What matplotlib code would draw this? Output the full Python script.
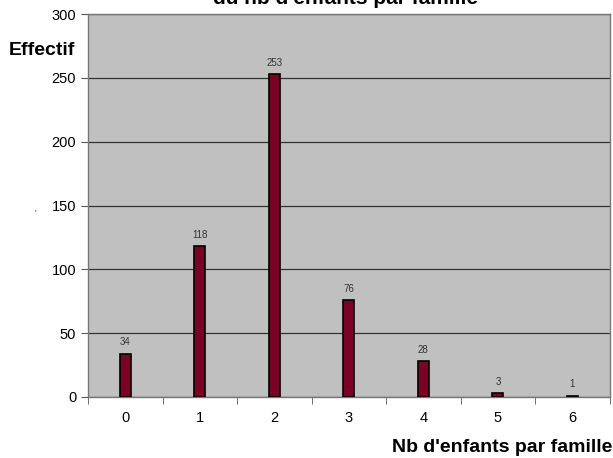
import matplotlib.pyplot as plt
from matplotlib.ticker import MultipleLocator

plt.rcParams['font.family'] = ['Liberation Sans', 'DejaVu Sans']

# données : nb d'enfants par famille
nb_enfants = [0, 1, 2, 3, 4, 5, 6]
effectifs = [34, 118, 253, 76, 28, 3, 1]

fig = plt.figure(figsize=(6.13, 4.58), dpi=100)
ax = fig.add_axes([0.1436, 0.1332, 0.851, 0.8362])
ax.set_facecolor('#c0c0c0')

bars = ax.bar(nb_enfants, effectifs, width=0.15, color='#7d0025',
              edgecolor='black', linewidth=1.2, zorder=3)
for x, v in zip(nb_enfants, effectifs):
    ax.text(x, v + 5, str(v), ha='center', va='bottom', fontsize=7,
            color='#333333', zorder=4)

ax.set_xlim(-0.5, 6.5)
ax.set_ylim(0, 300)
ax.yaxis.set_major_locator(MultipleLocator(50))
ax.grid(axis='y', color='#333333', linewidth=0.9, zorder=1)

ax.set_xticks(nb_enfants)
ax.set_xticks([i - 0.5 for i in range(8)], minor=True)
ax.tick_params(axis='x', which='major', length=0, pad=10, labelsize=10.5)
ax.tick_params(axis='x', which='minor', length=5, direction='out', color='#555555')
ax.tick_params(axis='y', length=5, direction='out', labelsize=10.5, color='#555555')

for s in ax.spines.values():
    s.set_color('#777777')
    s.set_linewidth(1.0)

fig.text(0.068, 0.89, 'Effectif', ha='center', va='center',
         fontsize=14, fontweight='bold')
fig.text(0.999, 0.022, "Nb d'enfants par famille", ha='right', va='center',
         fontsize=14, fontweight='bold')
fig.text(0.563, 1.003, "du nb d'enfants par famille", ha='center', va='center',
         fontsize=15, fontweight='bold')
fig.text(0.058, 0.535, "'", ha='center', va='center', fontsize=6)

fig.savefig('out.png', dpi=100)
